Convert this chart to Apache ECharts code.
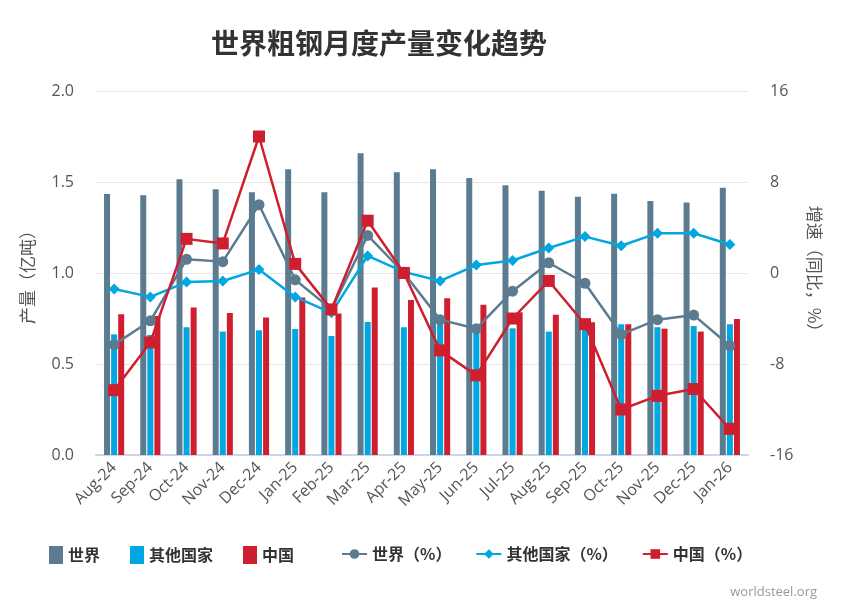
<!DOCTYPE html>
<html>
<head>
<meta charset="utf-8">
<script src="https://cdn.jsdelivr.net/npm/echarts@6/dist/echarts.min.js"></script>
<style>
html, body {margin: 0; padding: 0; background: #fff;}
#main {width: 853px; height: 611px;}
</style>
</head>
<body>
<div id="main"></div>
<script>
var months = ['Aug-24', 'Sep-24', 'Oct-24', 'Nov-24', 'Dec-24', 'Jan-25', 'Feb-25', 'Mar-25', 'Apr-25',
    'May-25', 'Jun-25', 'Jul-25', 'Aug-25', 'Sep-25', 'Oct-25', 'Nov-25', 'Dec-25', 'Jan-26'];
// 产量（亿吨）
var worldOutput = [1.434, 1.427, 1.515, 1.46, 1.443, 1.57, 1.443, 1.658, 1.553,
    1.57, 1.522, 1.482, 1.452, 1.419, 1.436, 1.396, 1.388, 1.469];
var otherOutput = [0.663, 0.66, 0.702, 0.678, 0.685, 0.692, 0.654, 0.731, 0.702,
    0.72, 0.70, 0.696, 0.678, 0.72, 0.718, 0.702, 0.709, 0.718];
var chinaOutput = [0.773, 0.764, 0.81, 0.78, 0.756, 0.866, 0.778, 0.921, 0.852,
    0.861, 0.826, 0.784, 0.771, 0.729, 0.718, 0.694, 0.678, 0.747];
// 增速（同比，%）
var worldYoy = [-6.3, -4.2, 1.2, 1.0, 6.0, -0.6, -3.2, 3.3, 0.0,
    -4.1, -4.9, -1.6, 0.9, -0.9, -5.4, -4.1, -3.7, -6.4];
var otherYoy = [-1.4, -2.1, -0.8, -0.7, 0.3, -2.1, -3.5, 1.5, 0.1,
    -0.7, 0.7, 1.1, 2.2, 3.2, 2.4, 3.5, 3.5, 2.5];
var chinaYoy = [-10.3, -6.1, 3.0, 2.6, 12.0, 0.8, -3.2, 4.6, 0.0,
    -6.8, -9.0, -4.0, -0.7, -4.5, -12.0, -10.8, -10.2, -13.7];

var cWorld = '#5b7c90';
var cOther = '#00a7e1';
var cChina = '#cf1f2f';
var txtFont = '"Open Sans", "Noto Sans CJK SC", sans-serif';
var cjkFont = '"Noto Sans CJK SC", sans-serif';

var mychart = echarts.init(document.getElementById('main'));

function barSeries(name, color, data) {
    return {
        name: name,
        type: 'bar',
        yAxisIndex: 0,
        barWidth: 6,
        barGap: '18%',
        itemStyle: {color: color},
        data: data
    };
}
function lineSeries(name, color, symbol, size, data) {
    return {
        name: name,
        type: 'line',
        yAxisIndex: 1,
        symbol: symbol,
        symbolSize: size,
        lineStyle: {color: color, width: 2.5},
        itemStyle: {color: color},
        data: data,
        z: 5
    };
}

var option = {
    animation: false,
    title: {
        text: '世界粗钢月度产量变化趋势',
        left: 374,
        top: 24,
        textAlign: 'center',
        textStyle: {fontFamily: cjkFont, fontSize: 28, fontWeight: 'bold', color: '#333'}
    },
    graphic: [{
        type: 'text',
        right: 36,
        bottom: 12,
        style: {text: 'worldsteel.org', fill: '#999', font: '13px ' + txtFont}
    }],
    legend: [{
        data: ['世界', '其他国家', '中国'],
        left: 44,
        top: 541,
        itemWidth: 14,
        itemHeight: 18,
        itemGap: 30,
        icon: 'rect',
        textStyle: {fontFamily: cjkFont, fontSize: 16, fontWeight: 'bold', color: '#333'}
    }, {
        data: ['世界（%）', '其他国家（%）', '中国（%）'],
        left: 336,
        top: 541,
        itemWidth: 25,
        itemHeight: 12,
        itemGap: 24,
        textStyle: {fontFamily: cjkFont, fontSize: 16, fontWeight: 'bold', color: '#333'}
    }],
    grid: {left: 96, right: 105, top: 91, bottom: 156},
    xAxis: [{
        type: 'category',
        data: months,
        axisTick: {show: false},
        axisLine: {lineStyle: {color: '#ccd6eb', width: 2}},
        axisLabel: {
            rotate: 45,
            interval: 0,
            margin: 10,
            color: '#555',
            fontFamily: txtFont,
            fontSize: 16
        }
    }],
    yAxis: [{
        type: 'value',
        min: 0,
        max: 2,
        interval: 0.5,
        name: '产量（亿吨）',
        nameLocation: 'middle',
        nameGap: 60,
        nameTextStyle: {fontFamily: cjkFont, fontSize: 17, color: '#555'},
        axisLabel: {
            formatter: function (value) {
                return value.toFixed(1);
            },
            margin: 22,
            color: '#555',
            fontFamily: txtFont,
            fontSize: 16
        },
        splitLine: {lineStyle: {color: '#e6e6e6'}},
        axisLine: {show: false},
        axisTick: {show: false}
    }, {
        type: 'value',
        min: -16,
        max: 16,
        interval: 8,
        name: '增速（同比，%）',
        nameLocation: 'middle',
        nameRotate: -90,
        nameGap: 58,
        nameTextStyle: {fontFamily: cjkFont, fontSize: 17, color: '#555'},
        axisLabel: {
            margin: 22,
            color: '#555',
            fontFamily: txtFont,
            fontSize: 16
        },
        splitLine: {show: false},
        axisLine: {show: false},
        axisTick: {show: false}
    }],
    series: [
        barSeries('世界', cWorld, worldOutput),
        barSeries('其他国家', cOther, otherOutput),
        barSeries('中国', cChina, chinaOutput),
        lineSeries('世界（%）', cWorld, 'circle', 11, worldYoy),
        lineSeries('其他国家（%）', cOther, 'diamond', 11, otherYoy),
        lineSeries('中国（%）', cChina, 'rect', 12, chinaYoy)
    ]
};
mychart.setOption(option);
</script>
</body>
</html>
